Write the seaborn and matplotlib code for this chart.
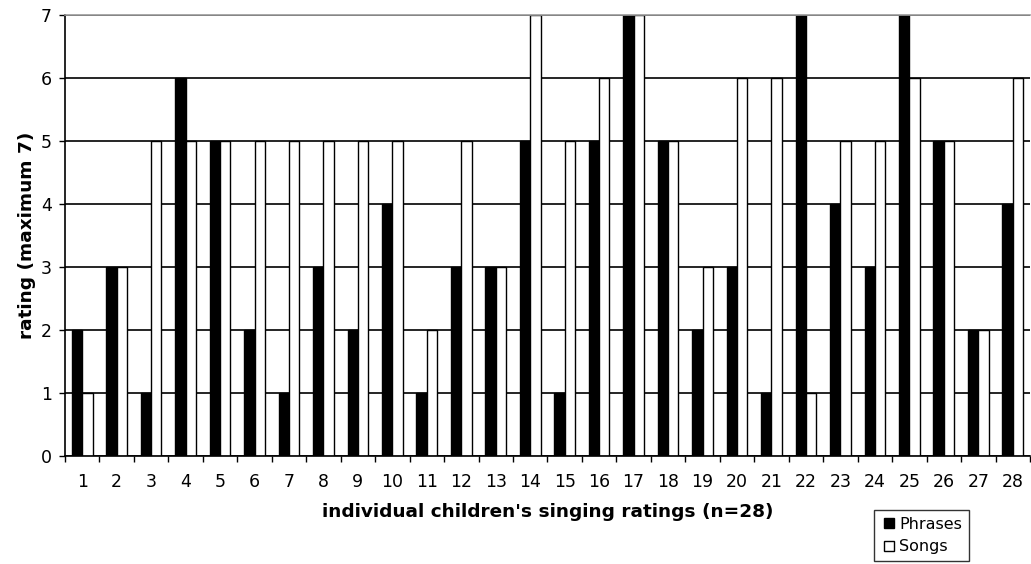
# plot.py
# children's singing ratings: phrases vs songs

import pandas as pd
import seaborn as sns
import matplotlib.pyplot as plt
from matplotlib.lines import Line2D

children = [str(i) for i in range(1, 29)]
phrases = [2, 3, 1, 6, 5, 2, 1, 3, 2, 4, 1, 3, 3, 5, 1, 5, 7, 5, 2, 3, 1, 7, 4, 3, 7, 5, 2, 4]
songs = [1, 3, 5, 5, 5, 5, 5, 5, 5, 5, 2, 5, 3, 7, 5, 6, 7, 5, 3, 6, 6, 1, 5, 5, 6, 5, 2, 6]


def build_frame():
    df = pd.DataFrame({"child": children, "Phrases": phrases, "Songs": songs})
    return df.melt(id_vars="child", var_name="series", value_name="rating")


def main():
    df = build_frame()

    sns.set_style("white")
    plt.rcParams['font.family'] = ['DejaVu Sans']
    plt.rcParams['text.color'] = 'black'
    plt.rcParams['axes.labelcolor'] = 'black'
    plt.rcParams['xtick.color'] = 'black'
    plt.rcParams['ytick.color'] = 'black'

    fig = plt.figure(figsize=(10.31, 5.64), dpi=100)
    ax = fig.add_axes([0.063, 0.191, 0.936, 0.782])

    sns.barplot(data=df, x="child", y="rating", hue="series", order=children,
                palette={"Phrases": "black", "Songs": "white"},
                width=0.6, edgecolor="black", linewidth=1.0,
                legend=False, ax=ax, zorder=2)

    # horizontal gridlines behind the bars
    ax.set_axisbelow(True)
    ax.yaxis.grid(True, color="black", linewidth=1.2, zorder=0)
    ax.set_ylim(0, 7)
    ax.set_xlim(-0.5, len(children) - 0.5)
    ax.set_yticks(range(0, 8))

    # tick marks between the groups, labels centred
    ax.set_xticks([i - 0.5 for i in range(len(children) + 1)], minor=True)
    ax.tick_params(axis="x", which="major", length=0, labelsize=12.5, pad=12)
    ax.tick_params(axis="x", which="minor", length=4.5, width=1, color="black",
                   direction="out", bottom=True)
    ax.tick_params(axis="y", length=4.5, width=1, color="black", direction="out",
                   left=True, labelsize=12.5, pad=5)

    for side in ["left", "bottom"]:
        ax.spines[side].set_color("black")
        ax.spines[side].set_linewidth(1.2)
    ax.spines["top"].set_color("#999999")
    ax.spines["top"].set_linewidth(1.2)
    ax.spines["right"].set_visible(False)

    ax.set_xlabel("individual children's singing ratings (n=28)",
                  fontsize=13.3, fontweight="bold", labelpad=9)
    ax.set_ylabel("rating (maximum 7)", fontsize=13.3, fontweight="bold", labelpad=3)

    handles = [Line2D([], [], marker="s", linestyle="none", markersize=7,
                      markerfacecolor="black", markeredgecolor="black", label="Phrases"),
               Line2D([], [], marker="s", linestyle="none", markersize=7,
                      markerfacecolor="white", markeredgecolor="black", label="Songs")]
    fig.legend(handles=handles, loc="upper left", bbox_to_anchor=(0.848, 0.096),
               frameon=True, fancybox=False, edgecolor="black", fontsize=11.5,
               handlelength=1.0, handletextpad=0.1,
               borderpad=0.45, labelspacing=0.45, borderaxespad=0)

    fig.savefig("out.png", dpi=100)
    plt.close(fig)


if __name__ == "__main__":
    main()
